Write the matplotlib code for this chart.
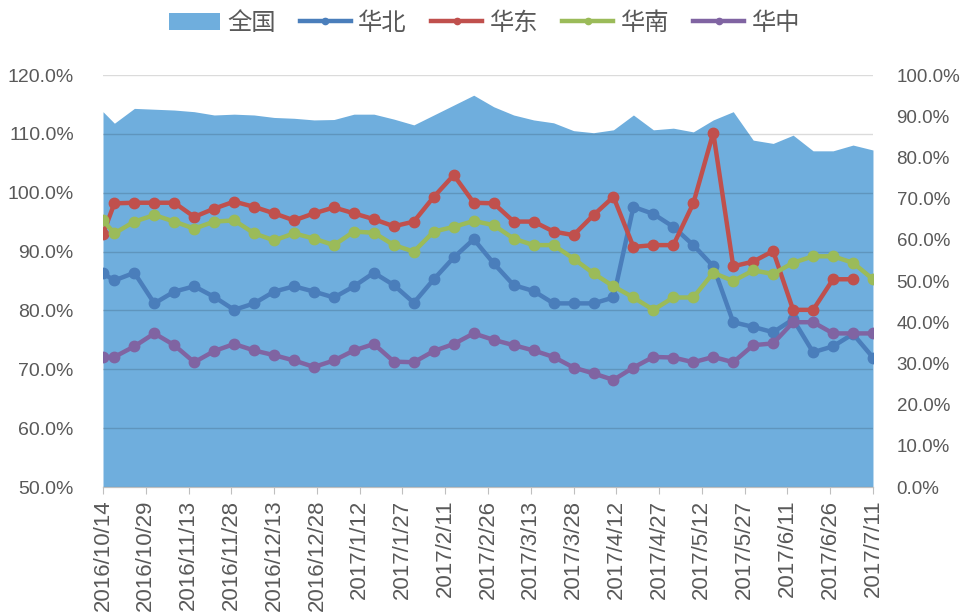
import numpy as np
import pandas as pd
import matplotlib
matplotlib.use("Agg")
import matplotlib.pyplot as plt
from matplotlib.ticker import FuncFormatter, MultipleLocator

plt.rcParams['font.family'] = ['Liberation Sans', 'Noto Sans CJK SC', 'DejaVu Sans']

# first point on 10/14, then weekly (Tuesdays)
dates = [pd.Timestamp("2016-10-14")] + list(pd.date_range("2016-10-18", "2017-07-11", freq="7D"))

quanguo = [91.1, 88.3, 91.9, 91.7, 91.5, 91.1, 90.3, 90.5, 90.3, 89.7,
           89.5, 89.1, 89.2, 90.5, 90.5, 89.3, 87.9, 90.3, 92.7, 95.1,
           92.3, 90.3, 89.1, 88.4, 86.5, 86.0, 86.7, 90.3, 86.7, 87.1,
           86.2, 89.1, 91.1, 84.2, 83.4, 85.4, 81.6, 81.6, 83.0, 81.8]
huabei = [86.3, 85.1, 86.4, 81.2, 83.2, 84.1, 82.3, 80.1, 81.2, 83.2,
          84.1, 83.2, 82.2, 84.1, 86.4, 84.3, 81.3, 85.3, 89.0, 92.1,
          88.0, 84.3, 83.3, 81.2, 81.2, 81.2, 82.2, 97.6, 96.4, 94.2,
          91.1, 87.5, 78.0, 77.2, 76.3, 78.5, 72.9, 73.9, 76.0, 72.0]
huadong = [93.0, 98.2, 98.3, 98.3, 98.3, 95.9, 97.3, 98.5, 97.6, 96.5,
           95.3, 96.5, 97.5, 96.5, 95.5, 94.3, 95.1, 99.3, 103.0, 98.3,
           98.2, 95.1, 95.1, 93.4, 92.8, 96.2, 99.3, 90.8, 91.1, 91.1,
           98.2, 110.2, 87.5, 88.3, 90.1, 80.1, 80.1, 85.3, 85.3, np.nan]
huanan = [95.3, 93.1, 95.1, 96.2, 95.1, 93.9, 95.1, 95.3, 93.1, 91.9,
          93.1, 92.2, 91.1, 93.4, 93.2, 91.1, 90.0, 93.4, 94.2, 95.2,
          94.5, 92.2, 91.1, 91.1, 88.8, 86.3, 84.1, 82.2, 80.1, 82.2,
          82.2, 86.4, 85.0, 86.8, 86.2, 88.1, 89.2, 89.2, 88.1, 85.3]
huazhong = [72.1, 72.1, 73.9, 76.1, 74.1, 71.2, 73.1, 74.3, 73.2, 72.4,
            71.5, 70.4, 71.5, 73.2, 74.3, 71.3, 71.2, 73.1, 74.3, 76.1,
            75.0, 74.1, 73.2, 72.1, 70.3, 69.3, 68.2, 70.3, 72.1, 72.0,
            71.2, 72.1, 71.2, 74.1, 74.4, 78.0, 78.0, 76.1, 76.1, 76.1]

fig = plt.figure(figsize=(9.69, 6.16), dpi=100)
ax = fig.add_axes([0.1063, 0.2094, 0.7946, 0.6688])
ax2 = ax.twinx()
ax.set_zorder(ax2.get_zorder() + 1)
ax.patch.set_visible(False)

area = ax2.fill_between(dates, quanguo, 0, color="#6FAEDD", linewidth=0, label="全国")
ax2.set_ylim(0, 100)

lines = []
for vals, col, name in [(huabei, "#4A7EBB", "华北"), (huadong, "#C0504D", "华东"),
                        (huanan, "#9BBB59", "华南"), (huazhong, "#8064A2", "华中")]:
    l, = ax.plot(dates, vals, color=col, lw=3.2, marker="o", ms=7.5, label=name)
    lines.append(l)

ax.set_ylim(50, 120)
ax.yaxis.set_major_locator(MultipleLocator(10))
ax2.yaxis.set_major_locator(MultipleLocator(10))
pct = FuncFormatter(lambda v, p: f"{v:.1f}%")
ax.yaxis.set_major_formatter(pct)
ax2.yaxis.set_major_formatter(pct)
ax.set_axisbelow(True)
ax.grid(axis="y", color="black", alpha=0.14, lw=1)

ticks = pd.date_range(dates[0], dates[-1], freq="15D")
ax.set_xticks(ticks)
ax.set_xticklabels([f"{d.year}/{d.month}/{d.day}" for d in ticks], rotation=90,
                   fontsize=16, color="#595959")
ax.set_xlim(dates[0], dates[-1])

for a in (ax, ax2):
    for s in ("top", "left", "right"):
        a.spines[s].set_visible(False)
    a.spines["bottom"].set_color("#BFBFBF")
ax.tick_params(axis="y", length=0, labelsize=14, labelcolor="#595959", pad=21)
ax2.tick_params(axis="y", length=0, labelsize=13.5, labelcolor="#595959", pad=17)
ax.tick_params(axis="x", length=5, color="#BFBFBF", pad=4)

fig.legend([area] + lines, ["全国", "华北", "华东", "华南", "华中"], loc="center",
           bbox_to_anchor=(0.5, 0.962), ncol=5, frameon=False, fontsize=17.5,
           handlelength=2.1, handletextpad=0.3, columnspacing=1.0,
           labelcolor="#595959", markerscale=0.6)

fig.savefig("out.png", dpi=100)
